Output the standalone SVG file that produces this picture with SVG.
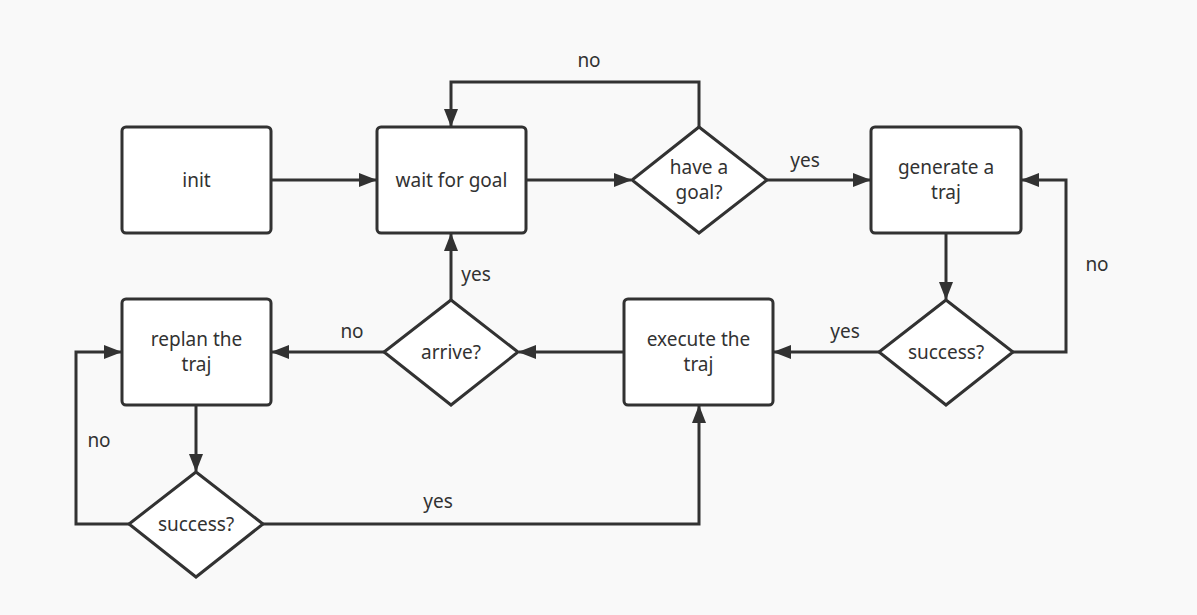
<svg xmlns="http://www.w3.org/2000/svg" width="1197" height="615" viewBox="0 0 1197 615">
<style>
.n{fill:#fff;stroke:#323232;stroke-width:3}
.c{fill:none;stroke:#323232;stroke-width:3}
text{font-family:"Noto Sans","Open Sans","DejaVu Sans",sans-serif;font-size:19px;fill:#323232;text-anchor:middle}
</style>
<defs>
<marker id="a" viewBox="0 0 18 14" refX="17" refY="7" markerWidth="18" markerHeight="14" markerUnits="userSpaceOnUse" orient="auto">
<path d="M0,0 L18,7 L0,14 Z" fill="#323232"/>
</marker>
</defs>
<rect width="1197" height="615" fill="#f9f9f9"/>
<g id="connectors">
<path class="c" d="M271,180 H376" marker-end="url(#a)"/>
<path class="c" d="M526,180 H631" marker-end="url(#a)"/>
<path class="c" d="M699,127 V82 H451 V126" marker-end="url(#a)"/>
<path class="c" d="M767,180 H870" marker-end="url(#a)"/>
<path class="c" d="M946,233 V299" marker-end="url(#a)"/>
<path class="c" d="M1013,352 H1066 V180 H1022" marker-end="url(#a)"/>
<path class="c" d="M879,352 H774" marker-end="url(#a)"/>
<path class="c" d="M624,352 H519" marker-end="url(#a)"/>
<path class="c" d="M451,300 V234" marker-end="url(#a)"/>
<path class="c" d="M384,352 H272" marker-end="url(#a)"/>
<path class="c" d="M196,405 V471" marker-end="url(#a)"/>
<path class="c" d="M129,524 H76 V352 H121" marker-end="url(#a)"/>
<path class="c" d="M263,524 H699 V406" marker-end="url(#a)"/>
<text x="589" y="67">no</text>
<text x="805" y="167">yes</text>
<text x="1097" y="271">no</text>
<text x="845" y="338">yes</text>
<text x="476" y="281">yes</text>
<text x="352" y="338">no</text>
<text x="99" y="447">no</text>
<text x="438" y="508">yes</text>
</g>
<g id="init"><rect class="n" x="122" y="127" width="149" height="106" rx="4"/><text x="196.5" y="187">init</text></g>
<g id="wait"><rect class="n" x="377" y="127" width="149" height="106" rx="4"/><text x="451.5" y="187">wait for goal</text></g>
<g id="haveGoal"><path class="n" d="M699,127 L767,180 L699,233 L632,180 Z"/><text x="699" y="174">have a</text><text x="699" y="199">goal?</text></g>
<g id="generate"><rect class="n" x="871" y="127" width="150" height="106" rx="4"/><text x="946" y="174">generate a</text><text x="946" y="199">traj</text></g>
<g id="success1"><path class="n" d="M946,300 L1013,352 L946,405 L879,352 Z"/><text x="946" y="359">success?</text></g>
<g id="execute"><rect class="n" x="624" y="299" width="149" height="106" rx="4"/><text x="698.5" y="346">execute the</text><text x="698.5" y="371">traj</text></g>
<g id="arrive"><path class="n" d="M451,300 L518,352 L451,405 L384,352 Z"/><text x="451" y="359">arrive?</text></g>
<g id="replan"><rect class="n" x="122" y="299" width="149" height="106" rx="4"/><text x="196.5" y="346">replan the</text><text x="196.5" y="371">traj</text></g>
<g id="success2"><path class="n" d="M196,472 L263,524 L196,577 L129,524 Z"/><text x="196" y="531">success?</text></g>
</svg>
